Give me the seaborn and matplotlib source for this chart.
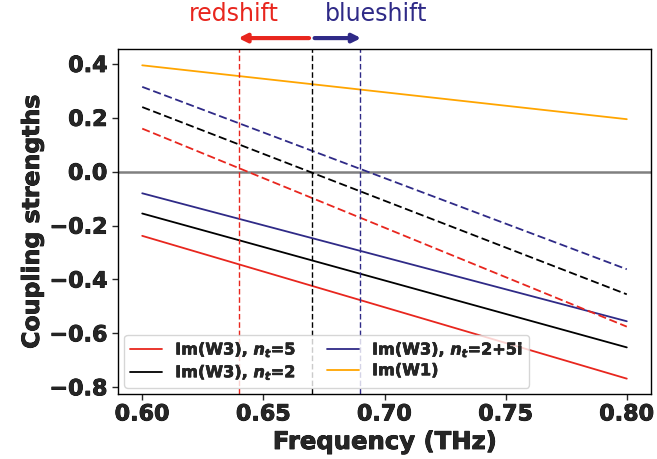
import numpy as np
import pandas as pd
import matplotlib
matplotlib.use("Agg")
import matplotlib.pyplot as plt
import matplotlib.patheffects as pe
import seaborn as sns

sns.set_style("ticks")
plt.rcParams['font.family'] = ['DejaVu Sans']
plt.rcParams['font.weight'] = 'bold'
plt.rcParams['mathtext.default'] = 'it'

freq = [0.60, 0.80]
# solid lines
im_w3_nt5 = [-0.238, -0.768]
im_w3_nt2 = [-0.155, -0.652]
im_w3_nt25i = [-0.080, -0.555]
im_w1 = [0.395, 0.195]
# dashed lines
dash_red = [0.160, -0.575]
dash_black = [0.240, -0.455]
dash_navy = [0.315, -0.362]
# vertical markers
f_red, f_black, f_navy = 0.64, 0.67, 0.69

RED = '#e8261e'
NAVY = '#2f2a87'
ORANGE = '#ffa500'

fig = plt.figure(figsize=(6.57, 4.60), dpi=100)
ax = fig.add_axes([0.1796, 0.1413, 0.8113, 0.7497])

ax.axhline(0, color='#808080', lw=1.8, zorder=1)

LW = 1.3
sns.lineplot(x=freq, y=im_w3_nt5, ax=ax, color=RED, lw=LW, label=r'Im(W3), $n_t$=5')
sns.lineplot(x=freq, y=im_w3_nt2, ax=ax, color='black', lw=LW, label=r'Im(W3), $n_t$=2')
sns.lineplot(x=freq, y=im_w3_nt25i, ax=ax, color=NAVY, lw=LW, label=r'Im(W3), $n_t$=2+5i')
sns.lineplot(x=freq, y=im_w1, ax=ax, color=ORANGE, lw=LW, label='Im(W1)')

sns.lineplot(x=freq, y=dash_red, ax=ax, color=RED, lw=LW, linestyle=(0, (4.5, 2)), legend=False)
sns.lineplot(x=freq, y=dash_black, ax=ax, color='black', lw=LW, linestyle=(0, (4.5, 2)), legend=False)
sns.lineplot(x=freq, y=dash_navy, ax=ax, color=NAVY, lw=LW, linestyle=(0, (4.5, 2)), legend=False)

for f, c in [(f_red, RED), (f_black, 'black'), (f_navy, NAVY)]:
    ax.axvline(f, color=c, lw=1.0, linestyle=(0, (4, 2)))

ax.set_xlim(0.59, 0.81)
ax.set_ylim(-0.825, 0.455)
ax.set_xticks([0.60, 0.65, 0.70, 0.75, 0.80])
ax.set_yticks([0.4, 0.2, 0.0, -0.2, -0.4, -0.6, -0.8])
ax.tick_params(labelsize=16, width=1.0, length=4)
heavy = [pe.withStroke(linewidth=0.6, foreground='black')]
for lab in ax.get_xticklabels() + ax.get_yticklabels():
    lab.set_fontweight('bold')
    lab.set_path_effects(heavy)
ax.set_xlabel('Frequency (THz)', fontsize=17.5, fontweight='bold', path_effects=heavy)
ax.set_ylabel('Coupling strengths', fontsize=17, fontweight='bold', path_effects=heavy)
for s in ax.spines.values():
    s.set_color('black')
    s.set_linewidth(1.0)

# shift arrows
y_arr = 0.496
ax.annotate('', xy=(f_red - 0.0015, y_arr), xytext=(f_black, y_arr), xycoords='data',
            arrowprops=dict(arrowstyle='-|>', color=RED, lw=3, mutation_scale=12),
            annotation_clip=False)
ax.annotate('', xy=(f_navy + 0.0015, y_arr), xytext=(f_black, y_arr), xycoords='data',
            arrowprops=dict(arrowstyle='-|>', color=NAVY, lw=3, mutation_scale=12),
            annotation_clip=False)
ax.text(0.638, 0.545, 'redshift', color=RED, fontsize=17, fontweight='normal',
        ha='center', va='bottom', clip_on=False)
ax.text(0.6965, 0.545, 'blueshift', color=NAVY, fontsize=17, fontweight='normal',
        ha='center', va='bottom', clip_on=False)

leg = ax.legend(loc='lower left', ncol=2, prop={'weight': 'bold', 'size': 11.6},
                frameon=True, handlelength=2.0, columnspacing=1.9,
                borderaxespad=0.4, labelspacing=0.25, borderpad=0.35)
leg.get_frame().set_edgecolor('#cccccc')
for t in leg.get_texts():
    t.set_path_effects([pe.withStroke(linewidth=0.4, foreground='black')])

fig.savefig('out.png', dpi=100)
